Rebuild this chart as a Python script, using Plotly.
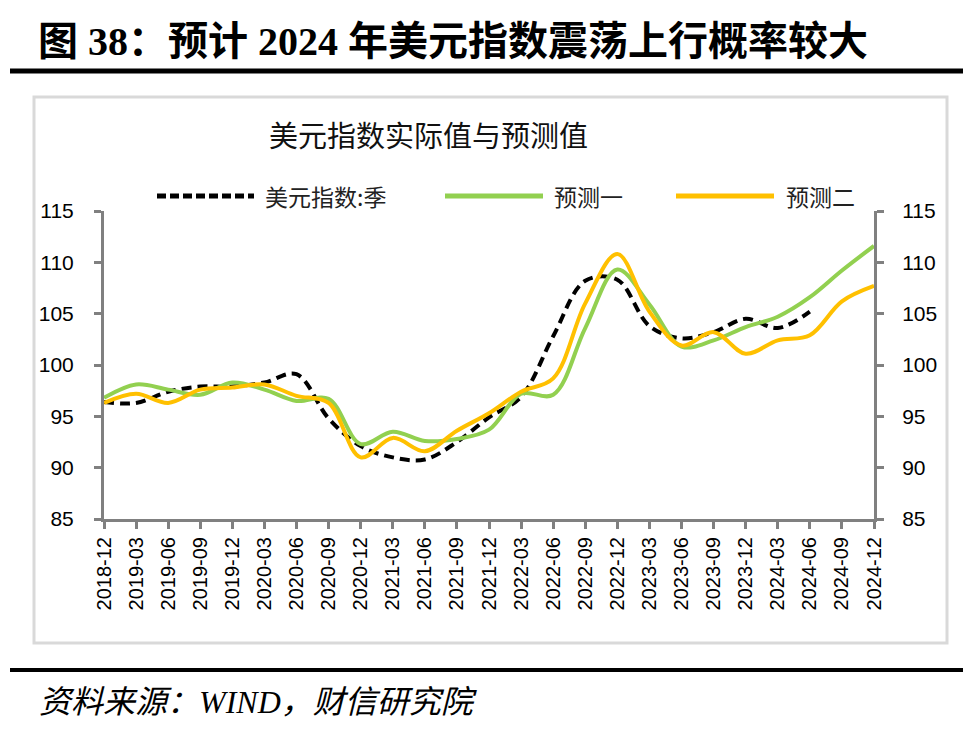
import plotly.graph_objects as go

# ---------------- data ----------------
quarters = ["2018-12", "2019-03", "2019-06", "2019-09", "2019-12", "2020-03", "2020-06",
            "2020-09", "2020-12", "2021-03", "2021-06", "2021-09", "2021-12", "2022-03",
            "2022-06", "2022-09", "2022-12", "2023-03", "2023-06", "2023-09", "2023-12",
            "2024-03", "2024-06", "2024-09", "2024-12"]
actual = [96.4, 96.3, 97.4, 97.9, 97.9, 98.3, 99.1, 94.8, 92.1, 91.0, 90.8, 92.5, 94.9,
          96.9, 102.8, 108.2, 108.3, 103.8, 102.6, 103.2, 104.5, 103.6, 105.2, None, None]
forecast1 = [96.8, 98.1, 97.6, 97.1, 98.3, 97.6, 96.5, 96.7, 92.3, 93.5, 92.6, 92.8, 93.7,
             97.2, 97.1, 103.6, 109.3, 105.9, 101.8, 102.4, 103.7, 104.7, 106.6, 109.2, 111.6]
forecast2 = [96.3, 97.2, 96.3, 97.6, 97.8, 98.1, 97.0, 96.3, 91.0, 92.9, 91.6, 93.6, 95.3,
             97.4, 98.7, 106.0, 110.8, 105.2, 101.9, 103.2, 101.1, 102.4, 102.9, 106.2, 107.7]
series_names = ["美元指数:季", "预测一", "预测二"]
y_ticks = [85, 90, 95, 100, 105, 110, 115]

fig_title = "图 38：预计 2024 年美元指数震荡上行概率较大"
chart_title = "美元指数实际值与预测值"
source_text = "资料来源：WIND，财信研究院"

# ---------------- layout geometry ----------------
W, H = 973, 731
L, R, T, B = 104, 874, 211, 519  # plot area in pixels


def px(x):
    return (x - L) / (R - L)


def py(y):
    return (B - y) / (B - T)


GRAY = "#808080"
BLACK_C = "#000000"
GREEN = "#92D050"
YELLOW = "#FFC000"
CJK = "Noto Sans CJK SC"

xs = list(range(len(quarters)))

fig = go.Figure()
fig.add_trace(go.Scatter(x=xs, y=actual, mode="lines", name=series_names[0],
                         line=dict(color=BLACK_C, width=4, dash="10px,6px",
                                   shape="spline", smoothing=1.0),
                         connectgaps=False, showlegend=False))
fig.add_trace(go.Scatter(x=xs, y=forecast1, mode="lines", name=series_names[1],
                         line=dict(color=GREEN, width=4, shape="spline", smoothing=1.0),
                         showlegend=False))
fig.add_trace(go.Scatter(x=xs, y=forecast2, mode="lines", name=series_names[2],
                         line=dict(color=YELLOW, width=4, shape="spline", smoothing=1.0),
                         showlegend=False))
# invisible trace to activate right axis
fig.add_trace(go.Scatter(x=xs, y=forecast1, mode="lines", yaxis="y2",
                         line=dict(color="rgba(0,0,0,0)", width=0),
                         hoverinfo="skip", showlegend=False))

axis_common = dict(range=[85, 115], tickvals=y_ticks, showgrid=False, zeroline=False,
                   showline=True, linecolor=GRAY, linewidth=3,
                   ticks="outside", ticklen=7, tickwidth=3, tickcolor=GRAY,
                   tickfont=dict(family="Liberation Sans, Arial", size=21, color="#000"))

fig.update_layout(
    width=W, height=H,
    margin=dict(l=L, r=W - R, t=T, b=H - B, pad=0),
    paper_bgcolor="white", plot_bgcolor="white",
    showlegend=False,
    xaxis=dict(range=[0, len(quarters) - 1], tickvals=xs, ticktext=quarters,
               tickangle=-90, showgrid=False, zeroline=False,
               showline=True, linecolor=GRAY, linewidth=3,
               ticks="outside", ticklen=7, tickwidth=3, tickcolor=GRAY,
               tickfont=dict(family="Liberation Sans, Arial", size=20, color="#000")),
    yaxis=dict(side="left", ticklabelstandoff=16, **axis_common),
    yaxis2=dict(side="right", overlaying="y", ticklabelstandoff=14, **axis_common),
)

shapes = []
# thick black rules
shapes.append(dict(type="line", xref="paper", yref="paper", x0=px(10), x1=px(963),
                   y0=py(71), y1=py(71), line=dict(color="black", width=5)))
shapes.append(dict(type="line", xref="paper", yref="paper", x0=px(10), x1=px(963),
                   y0=py(670), y1=py(670), line=dict(color="black", width=4)))
# chart box
shapes.append(dict(type="rect", xref="paper", yref="paper", x0=px(34), x1=px(947),
                   y0=py(643), y1=py(97), line=dict(color="#D9D9D9", width=3),
                   layer="below"))
# legend samples
leg_y = py(196)
shapes.append(dict(type="line", xref="paper", yref="paper", x0=px(157), x1=px(254),
                   y0=leg_y, y1=leg_y, line=dict(color=BLACK_C, width=5, dash="9px,4px")))
shapes.append(dict(type="line", xref="paper", yref="paper", x0=px(445), x1=px(543),
                   y0=leg_y, y1=leg_y, line=dict(color=GREEN, width=5)))
shapes.append(dict(type="line", xref="paper", yref="paper", x0=px(676), x1=px(774),
                   y0=leg_y, y1=leg_y, line=dict(color=YELLOW, width=5)))
fig.update_layout(shapes=shapes)

annotations = [
    dict(text="<b>" + fig_title + "</b>", xref="paper", yref="paper", x=px(36), y=py(41),
         xanchor="left", yanchor="middle", showarrow=False,
         font=dict(family="Liberation Serif, " + CJK, size=40, color="black")),
    dict(text=chart_title, xref="paper", yref="paper", x=px(428), y=py(134),
         xanchor="center", yanchor="middle", showarrow=False,
         font=dict(family=CJK, size=29, color="#111")),
    dict(text=series_names[0], xref="paper", yref="paper", x=px(263), y=leg_y,
         xanchor="left", yanchor="middle", showarrow=False,
         font=dict(family=CJK, size=23, color="#222")),
    dict(text=series_names[1], xref="paper", yref="paper", x=px(552), y=leg_y,
         xanchor="left", yanchor="middle", showarrow=False,
         font=dict(family=CJK, size=23, color="#222")),
    dict(text=series_names[2], xref="paper", yref="paper", x=px(784), y=leg_y,
         xanchor="left", yanchor="middle", showarrow=False,
         font=dict(family=CJK, size=23, color="#222")),
    dict(text="<i>" + source_text + "</i>", xref="paper", yref="paper", x=px(37), y=py(702),
         xanchor="left", yanchor="middle", showarrow=False,
         font=dict(family="Liberation Serif, " + CJK, size=32, color="black")),
]
fig.update_layout(annotations=annotations)

fig.write_html("out.html")
